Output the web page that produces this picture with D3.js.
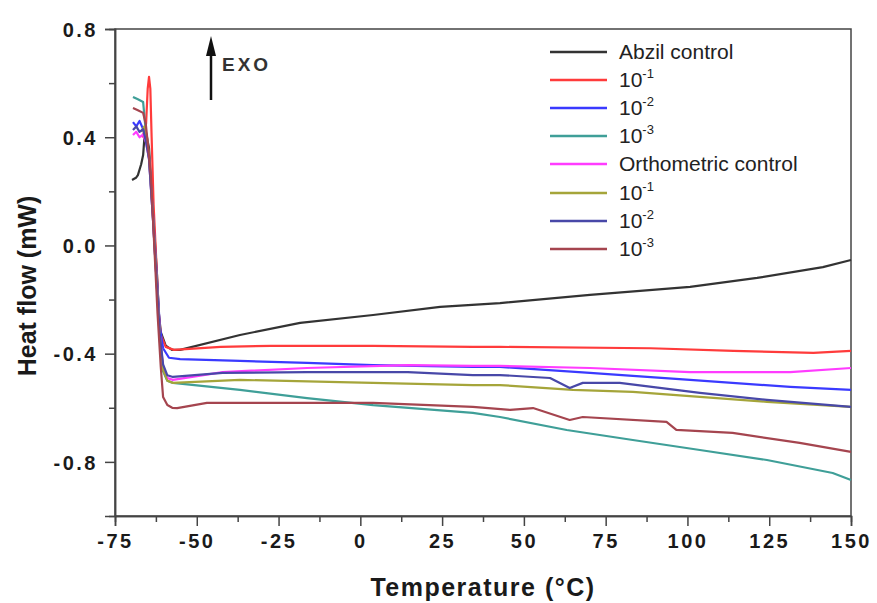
<!DOCTYPE html>
<html>
<head>
<meta charset="utf-8">
<script src="https://cdn.jsdelivr.net/npm/d3@7"></script>
<style>
  body { margin: 0; background: #fff; }
  svg { font-family: "Liberation Sans", Arial, sans-serif; }
</style>
</head>
<body>
<svg id="chart"></svg>
<script>
// series, [temperature °C, heat flow mW]
var abzilControl = [[-69.8,0.242],[-68.6,0.25],[-68.0,0.26],[-67.0,0.30],[-66.4,0.334],[-66.0,0.40],[-65.6,0.42],[-64.6,0.36],[-63.4,0.13],[-62.2,-0.1],[-61.6,-0.25],[-61.0,-0.32],[-59.5,-0.37],[-57.6,-0.386],[-55.1,-0.386],[-36.8,-0.331],[-18.4,-0.286],[3.9,-0.257],[24.4,-0.227],[42.7,-0.213],[70.2,-0.183],[100.8,-0.153],[121.3,-0.12],[141.4,-0.08],[150,-0.054]]
var abzil1 = [[-66.8,0.40],[-66.0,0.42],[-65.5,0.45],[-65.0,0.58],[-64.6,0.623],[-64.2,0.58],[-63.8,0.40],[-63.2,0.15],[-62.4,-0.05],[-61.6,-0.25],[-61.0,-0.33],[-59.5,-0.375],[-57.0,-0.386],[-42.7,-0.375],[-27.4,-0.371],[3.9,-0.371],[34.4,-0.375],[42.7,-0.375],[88.7,-0.38],[114.1,-0.39],[138.5,-0.397],[150,-0.39]]
var abzil2 = [[-69.5,0.456],[-68.5,0.44],[-67.5,0.46],[-66.4,0.43],[-65.5,0.40],[-64.6,0.33],[-63.4,0.12],[-62.2,-0.12],[-61.3,-0.30],[-60.3,-0.38],[-58.5,-0.415],[-55.1,-0.42],[-36.8,-0.427],[-16.3,-0.434],[3.9,-0.442],[34.4,-0.449],[42.7,-0.449],[70.2,-0.471],[100.8,-0.497],[131.4,-0.523],[150,-0.534]]
var abzil3 = [[-69.5,0.549],[-68.0,0.54],[-66.4,0.53],[-65.8,0.45],[-65.2,0.38],[-64.6,0.32],[-63.4,0.10],[-62.2,-0.15],[-61.3,-0.35],[-60.5,-0.46],[-59.0,-0.50],[-57.3,-0.508],[-36.8,-0.534],[-16.3,-0.564],[3.9,-0.59],[34.4,-0.619],[42.7,-0.634],[63.1,-0.682],[83.3,-0.719],[103.8,-0.756],[124.3,-0.793],[144.4,-0.841],[150,-0.867]]
var orthoControl = [[-69.5,0.408],[-68.5,0.42],[-67.5,0.40],[-66.4,0.41],[-65.5,0.38],[-64.6,0.32],[-63.4,0.10],[-62.2,-0.15],[-61.3,-0.33],[-60.3,-0.45],[-59.0,-0.49],[-57.3,-0.497],[-42.1,-0.468],[-16.3,-0.453],[14.5,-0.442],[34.4,-0.445],[42.7,-0.445],[70.2,-0.453],[100.8,-0.468],[131.4,-0.468],[150,-0.453]]
var ortho1 = [[-67.0,0.42],[-66.0,0.44],[-65.2,0.40],[-64.6,0.33],[-63.4,0.11],[-62.2,-0.14],[-61.3,-0.33],[-60.3,-0.46],[-59.0,-0.50],[-57.3,-0.508],[-36.8,-0.497],[-6.3,-0.505],[34.4,-0.516],[42.7,-0.516],[65.0,-0.534],[83.3,-0.541],[103.8,-0.56],[124.3,-0.578],[150,-0.597]]
var ortho2 = [[-69.5,0.427],[-68.5,0.44],[-67.5,0.42],[-66.4,0.43],[-65.5,0.38],[-64.6,0.32],[-63.4,0.10],[-62.2,-0.15],[-61.3,-0.33],[-60.3,-0.44],[-59.0,-0.48],[-57.3,-0.486],[-42.1,-0.471],[-16.3,-0.468],[14.5,-0.468],[34.4,-0.479],[42.7,-0.479],[58.0,-0.49],[64.0,-0.527],[68.0,-0.508],[79.3,-0.508],[103.8,-0.545],[124.3,-0.571],[150,-0.597]]
var ortho3 = [[-69.5,0.508],[-68.0,0.50],[-66.4,0.49],[-65.6,0.45],[-65.0,0.38],[-64.0,0.25],[-63.0,0.0],[-62.0,-0.25],[-61.0,-0.45],[-60.3,-0.56],[-59.0,-0.59],[-57.5,-0.60],[-56.0,-0.601],[-46.9,-0.582],[-26.8,-0.582],[3.9,-0.582],[34.4,-0.597],[45.8,-0.608],[52.8,-0.601],[64.0,-0.645],[68.0,-0.634],[93.6,-0.652],[96.6,-0.682],[113.8,-0.693],[134.3,-0.73],[150,-0.763]]

var seriesNames = ["Abzil control", "10|-1", "10|-2", "10|-3", "Orthometric control", "10|-1", "10|-2", "10|-3"]
var seriesData = [abzilControl, abzil1, abzil2, abzil3, orthoControl, ortho1, ortho2, ortho3]
var seriesColors = ["#333333", "#ff3b3b", "#3a3aff", "#3f9f98", "#ff3cff", "#a5a53a", "#4848a8", "#a5454f"]

var xTicks = [-75, -50, -25, 0, 25, 50, 75, 100, 125, 150]
var yTicks = [-0.8, -0.4, 0.0, 0.4, 0.8]
var xMinor = [-62.5, -37.5, -12.5, 12.5, 37.5, 62.5, 87.5, 112.5, 137.5]
var yMinor = [-0.6, -0.2, 0.2, 0.6]

var dimensions = {
    width: 877,
    height: 603,
    margin: { top: 29, bottom: 87, left: 115, right: 26 }
}

var svg = d3.select("#chart")
            .attr("width", dimensions.width)
            .attr("height", dimensions.height)

var xScale = d3.scaleLinear()
               .domain([-75, 150])
               .range([dimensions.margin.left, dimensions.width - dimensions.margin.right])

var yScale = d3.scaleLinear()
               .domain([-1.0, 0.8])
               .range([dimensions.height - dimensions.margin.bottom, dimensions.margin.top])

var axisColor = "#444"
// plain hyphen instead of the unicode minus d3 uses
var hyphen = f => (d => f(d).replace("\u2212", "-"))

// frame
svg.append("rect")
   .attr("x", xScale(-75)).attr("y", yScale(0.8))
   .attr("width", xScale(150) - xScale(-75))
   .attr("height", yScale(-1.0) - yScale(0.8))
   .attr("fill", "none").attr("stroke", axisColor).attr("stroke-width", 1.5)

// minor ticks drawn as their own tick-only axes
svg.append("g")
   .attr("class", "minor")
   .attr("transform", "translate(0," + yScale(-1.0) + ")")
   .call(d3.axisBottom(xScale).tickValues(xMinor).tickSize(6).tickFormat(""))
svg.append("g")
   .attr("class", "minor")
   .attr("transform", "translate(" + xScale(-75) + ",0)")
   .call(d3.axisLeft(yScale).tickValues(yMinor).tickSize(6).tickFormat(""))

var xAxis = svg.append("g")
   .attr("transform", "translate(0," + yScale(-1.0) + ")")
   .call(d3.axisBottom(xScale).tickValues(xTicks).tickSize(10).tickPadding(8).tickFormat(hyphen(d3.format("d"))))

var yAxis = svg.append("g")
   .attr("transform", "translate(" + xScale(-75) + ",0)")
   .call(d3.axisLeft(yScale).tickValues(yTicks).tickSize(10).tickPadding(7).tickFormat(hyphen(d3.format(".1f"))))

svg.selectAll(".domain").attr("stroke", axisColor).attr("stroke-width", 1.5)
svg.selectAll(".tick line").attr("stroke", axisColor).attr("stroke-width", 1.5)
svg.selectAll(".tick text")
   .attr("fill", "#1a1a1a")
   .style("font-size", "20px")
   .style("font-weight", "bold")
   .style("letter-spacing", "2.5px")
   .style("font-family", "'Liberation Sans', Arial, sans-serif")
yAxis.selectAll(".tick text").attr("dy", "0.36em")

// curves
var line = d3.line().x(d => xScale(d[0])).y(d => yScale(d[1]))
svg.append("g").selectAll("path")
   .data(seriesData)
   .enter()
   .append("path")
   .attr("d", line)
   .attr("fill", "none")
   .attr("stroke", (d, i) => seriesColors[i])
   .attr("stroke-width", 2.2)
   .attr("stroke-linejoin", "round")

// legend
var legendRows = [52, 80, 108, 136, 164, 193, 221, 249]
var legend = svg.append("g")
seriesNames.forEach(function(name, i) {
    var y = legendRows[i]
    legend.append("line")
          .attr("x1", 550).attr("x2", 607).attr("y1", y).attr("y2", y)
          .attr("stroke", seriesColors[i]).attr("stroke-width", 2.5)
    var t = legend.append("text")
          .attr("x", 619).attr("y", y + 7)
          .attr("fill", "#222")
          .style("font-size", "21px")
    var parts = name.split("|")
    t.append("tspan").text(parts[0])
    if (parts.length > 1) {
        t.append("tspan").attr("dy", -9).style("font-size", "13px").text(parts[1])
    }
})

// EXO arrow
svg.append("line")
   .attr("x1", 211).attr("x2", 211).attr("y1", 100).attr("y2", 52)
   .attr("stroke", "#111").attr("stroke-width", 2.5)
svg.append("path")
   .attr("d", "M206,56 L211,36 L216,56 Z").attr("fill", "#111")
svg.append("text")
   .attr("x", 222).attr("y", 71)
   .attr("fill", "#333")
   .style("font-size", "19px").style("font-weight", "bold").style("letter-spacing", "3px")
   .text("EXO")

// axis titles
svg.append("text")
   .attr("x", (xScale(-75) + xScale(150)) / 2)
   .attr("y", 596)
   .attr("text-anchor", "middle")
   .attr("fill", "#1a1a1a")
   .style("font-size", "25px").style("font-weight", "bold").style("letter-spacing", "1.5px")
   .text("Temperature (°C)")

svg.append("text")
   .attr("transform", "rotate(-90)")
   .attr("x", -286)
   .attr("y", 36)
   .attr("text-anchor", "middle")
   .attr("fill", "#1a1a1a")
   .style("font-size", "25px").style("font-weight", "bold")
   .text("Heat flow (mW)")
</script>
</body>
</html>
